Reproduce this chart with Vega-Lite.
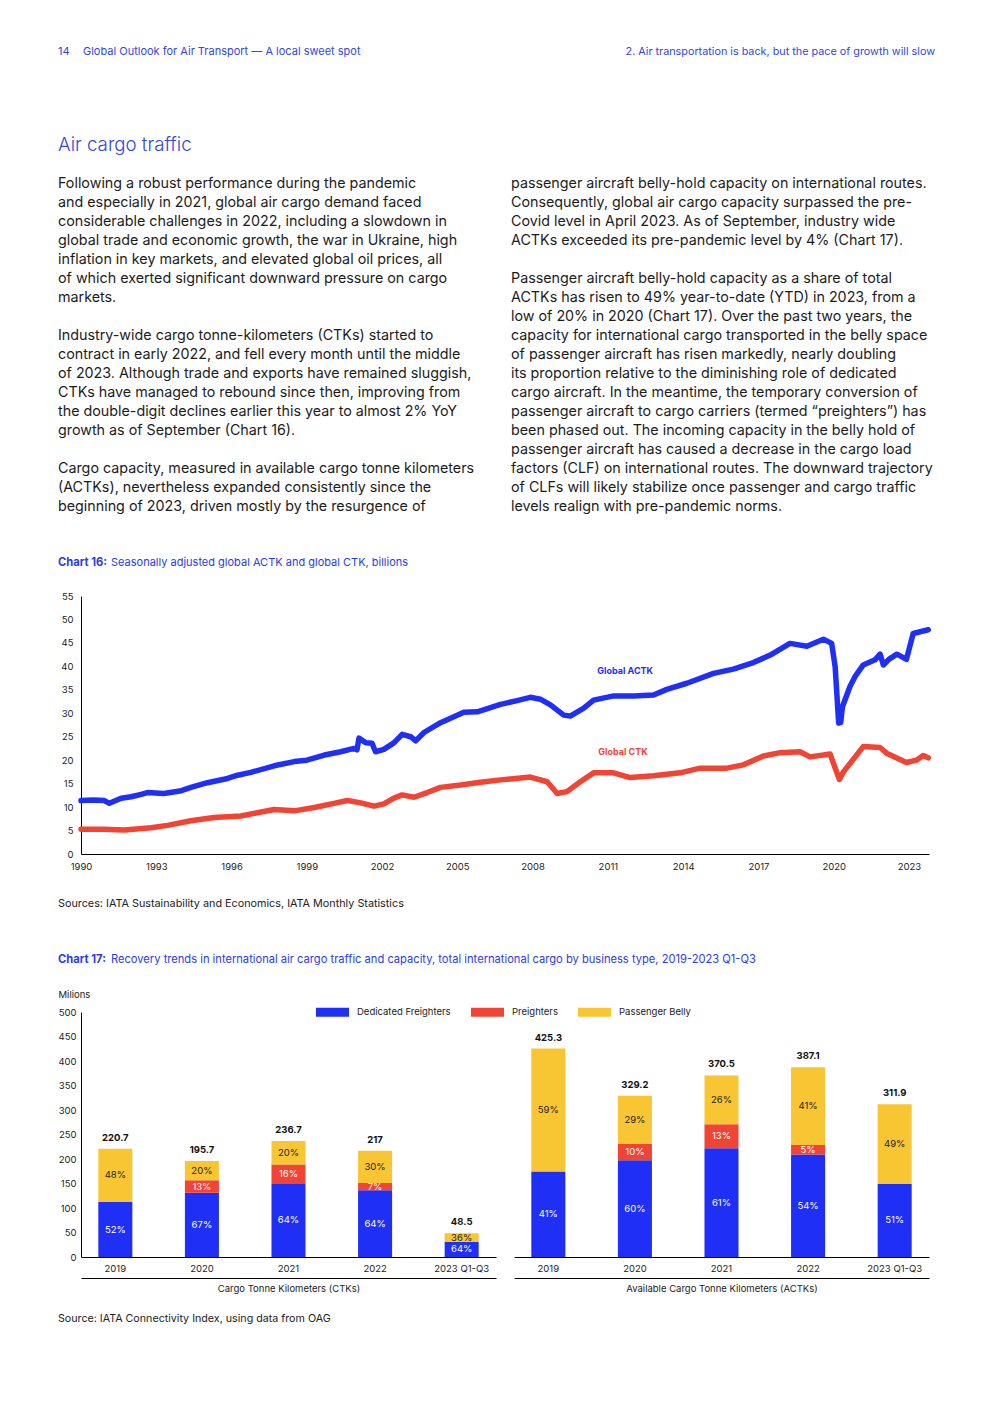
{
  "$schema": "https://vega.github.io/schema/vega-lite/v6.json",
  "padding": {"left": 57, "top": 40, "right": 10, "bottom": 10},
  "background": "white",
  "spacing": 0,
  "resolve": {"scale": {"color": "independent"}, "legend": {"color": "independent"}},
  "datasets": {
    "page": [
      {"role": "headerNum", "col": "left", "line": -7, "text": "14"},
      {"role": "headerL", "col": "left", "line": -7, "text": "Global Outlook for Air Transport — A local sweet spot"},
      {"role": "headerR", "col": "right", "line": -7, "text": "2. Air transportation is back, but the pace of growth will slow"},
      {"role": "title", "col": "left", "line": -2, "text": "Air cargo traffic"},
      {"role": "body", "col": "left", "line": 0, "text": "Following a robust performance during the pandemic"},
      {"role": "body", "col": "left", "line": 1, "text": "and especially in 2021, global air cargo demand faced"},
      {"role": "body", "col": "left", "line": 2, "text": "considerable challenges in 2022, including a slowdown in"},
      {"role": "body", "col": "left", "line": 3, "text": "global trade and economic growth, the war in Ukraine, high"},
      {"role": "body", "col": "left", "line": 4, "text": "inflation in key markets, and elevated global oil prices, all"},
      {"role": "body", "col": "left", "line": 5, "text": "of which exerted significant downward pressure on cargo"},
      {"role": "body", "col": "left", "line": 6, "text": "markets."},
      {"role": "body", "col": "left", "line": 8, "text": "Industry-wide cargo tonne-kilometers (CTKs) started to"},
      {"role": "body", "col": "left", "line": 9, "text": "contract in early 2022, and fell every month until the middle"},
      {"role": "body", "col": "left", "line": 10, "text": "of 2023. Although trade and exports have remained sluggish,"},
      {"role": "body", "col": "left", "line": 11, "text": "CTKs have managed to rebound since then, improving from"},
      {"role": "body", "col": "left", "line": 12, "text": "the double-digit declines earlier this year to almost 2% YoY"},
      {"role": "body", "col": "left", "line": 13, "text": "growth as of September (Chart 16)."},
      {"role": "body", "col": "left", "line": 15, "text": "Cargo capacity, measured in available cargo tonne kilometers"},
      {"role": "body", "col": "left", "line": 16, "text": "(ACTKs), nevertheless expanded consistently since the"},
      {"role": "body", "col": "left", "line": 17, "text": "beginning of 2023, driven mostly by the resurgence of"},
      {"role": "body", "col": "right", "line": 0, "text": "passenger aircraft belly-hold capacity on international routes."},
      {"role": "body", "col": "right", "line": 1, "text": "Consequently, global air cargo capacity surpassed the pre-"},
      {"role": "body", "col": "right", "line": 2, "text": "Covid level in April 2023. As of September, industry wide"},
      {"role": "body", "col": "right", "line": 3, "text": "ACTKs exceeded its pre-pandemic level by 4% (Chart 17)."},
      {"role": "body", "col": "right", "line": 5, "text": "Passenger aircraft belly-hold capacity as a share of total"},
      {"role": "body", "col": "right", "line": 6, "text": "ACTKs has risen to 49% year-to-date (YTD) in 2023, from a"},
      {"role": "body", "col": "right", "line": 7, "text": "low of 20% in 2020 (Chart 17). Over the past two years, the"},
      {"role": "body", "col": "right", "line": 8, "text": "capacity for international cargo transported in the belly space"},
      {"role": "body", "col": "right", "line": 9, "text": "of passenger aircraft has risen markedly, nearly doubling"},
      {"role": "body", "col": "right", "line": 10, "text": "its proportion relative to the diminishing role of dedicated"},
      {"role": "body", "col": "right", "line": 11, "text": "cargo aircraft. In the meantime, the temporary conversion of"},
      {"role": "body", "col": "right", "line": 12, "text": "passenger aircraft to cargo carriers (termed “preighters”) has"},
      {"role": "body", "col": "right", "line": 13, "text": "been phased out. The incoming capacity in the belly hold of"},
      {"role": "body", "col": "right", "line": 14, "text": "passenger aircraft has caused a decrease in the cargo load"},
      {"role": "body", "col": "right", "line": 15, "text": "factors (CLF) on international routes. The downward trajectory"},
      {"role": "body", "col": "right", "line": 16, "text": "of CLFs will likely stabilize once passenger and cargo traffic"},
      {"role": "body", "col": "right", "line": 17, "text": "levels realign with pre-pandemic norms."},
      {"role": "capB", "col": "left", "line": 20, "text": "Chart 16:"},
      {"role": "cap", "col": "left", "line": 20, "text": "Seasonally adjusted global ACTK and global CTK, billions"}
    ],
    "mid": [
      {"role": "src", "col": "left", "line": 0, "text": "Sources: IATA Sustainability and Economics, IATA Monthly Statistics"},
      {"role": "capB", "col": "left", "line": 3, "text": "Chart 17:"},
      {"role": "cap", "col": "left", "line": 3, "text": "Recovery trends in international air cargo traffic and capacity, total international cargo by business type, 2019-2023 Q1-Q3"}
    ],
    "foot": [
      {"role": "src", "col": "left", "line": 0, "text": "Source: IATA Connectivity Index, using data from OAG"}
    ],
    "traffic": [
      {"series": "Global ACTK", "year": 1990.0, "value": 11.4},
      {"series": "Global ACTK", "year": 1990.5, "value": 11.5},
      {"series": "Global ACTK", "year": 1990.93, "value": 11.4},
      {"series": "Global ACTK", "year": 1991.13, "value": 10.8},
      {"series": "Global ACTK", "year": 1991.6, "value": 11.9},
      {"series": "Global ACTK", "year": 1992.0, "value": 12.2},
      {"series": "Global ACTK", "year": 1992.4, "value": 12.7},
      {"series": "Global ACTK", "year": 1992.65, "value": 13.1},
      {"series": "Global ACTK", "year": 1993.3, "value": 12.9},
      {"series": "Global ACTK", "year": 1994.0, "value": 13.5},
      {"series": "Global ACTK", "year": 1994.38, "value": 14.2},
      {"series": "Global ACTK", "year": 1995.04, "value": 15.2},
      {"series": "Global ACTK", "year": 1995.84, "value": 16.1},
      {"series": "Global ACTK", "year": 1996.24, "value": 16.8},
      {"series": "Global ACTK", "year": 1996.77, "value": 17.4},
      {"series": "Global ACTK", "year": 1997.7, "value": 18.8},
      {"series": "Global ACTK", "year": 1998.5, "value": 19.7},
      {"series": "Global ACTK", "year": 1999.0, "value": 20.0},
      {"series": "Global ACTK", "year": 1999.7, "value": 21.1},
      {"series": "Global ACTK", "year": 2000.35, "value": 21.8},
      {"series": "Global ACTK", "year": 2000.88, "value": 22.5},
      {"series": "Global ACTK", "year": 2001.0, "value": 22.2},
      {"series": "Global ACTK", "year": 2001.08, "value": 24.7},
      {"series": "Global ACTK", "year": 2001.35, "value": 23.7},
      {"series": "Global ACTK", "year": 2001.6, "value": 23.6},
      {"series": "Global ACTK", "year": 2001.74, "value": 21.8},
      {"series": "Global ACTK", "year": 2002.07, "value": 22.3},
      {"series": "Global ACTK", "year": 2002.47, "value": 23.7},
      {"series": "Global ACTK", "year": 2002.8, "value": 25.5},
      {"series": "Global ACTK", "year": 2003.14, "value": 25.0},
      {"series": "Global ACTK", "year": 2003.34, "value": 24.1},
      {"series": "Global ACTK", "year": 2003.67, "value": 25.9},
      {"series": "Global ACTK", "year": 2004.33, "value": 28.0},
      {"series": "Global ACTK", "year": 2005.26, "value": 30.2},
      {"series": "Global ACTK", "year": 2005.8, "value": 30.3},
      {"series": "Global ACTK", "year": 2006.72, "value": 31.9},
      {"series": "Global ACTK", "year": 2007.3, "value": 32.6},
      {"series": "Global ACTK", "year": 2007.91, "value": 33.4},
      {"series": "Global ACTK", "year": 2008.31, "value": 33.0},
      {"series": "Global ACTK", "year": 2008.71, "value": 31.8},
      {"series": "Global ACTK", "year": 2009.24, "value": 29.6},
      {"series": "Global ACTK", "year": 2009.5, "value": 29.4},
      {"series": "Global ACTK", "year": 2010.04, "value": 31.1},
      {"series": "Global ACTK", "year": 2010.43, "value": 32.8},
      {"series": "Global ACTK", "year": 2011.23, "value": 33.7},
      {"series": "Global ACTK", "year": 2012.03, "value": 33.7},
      {"series": "Global ACTK", "year": 2012.82, "value": 33.9},
      {"series": "Global ACTK", "year": 2013.35, "value": 35.1},
      {"series": "Global ACTK", "year": 2014.15, "value": 36.4},
      {"series": "Global ACTK", "year": 2015.21, "value": 38.5},
      {"series": "Global ACTK", "year": 2016.0, "value": 39.4},
      {"series": "Global ACTK", "year": 2016.8, "value": 40.8},
      {"series": "Global ACTK", "year": 2017.47, "value": 42.4},
      {"series": "Global ACTK", "year": 2018.26, "value": 44.9},
      {"series": "Global ACTK", "year": 2018.93, "value": 44.3},
      {"series": "Global ACTK", "year": 2019.59, "value": 45.8},
      {"series": "Global ACTK", "year": 2019.92, "value": 44.9},
      {"series": "Global ACTK", "year": 2020.06, "value": 39.9},
      {"series": "Global ACTK", "year": 2020.2, "value": 27.9},
      {"series": "Global ACTK", "year": 2020.28, "value": 28.0},
      {"series": "Global ACTK", "year": 2020.35, "value": 31.4},
      {"series": "Global ACTK", "year": 2020.65, "value": 35.7},
      {"series": "Global ACTK", "year": 2020.85, "value": 37.8},
      {"series": "Global ACTK", "year": 2021.18, "value": 40.3},
      {"series": "Global ACTK", "year": 2021.65, "value": 41.4},
      {"series": "Global ACTK", "year": 2021.85, "value": 42.6},
      {"series": "Global ACTK", "year": 2021.98, "value": 40.3},
      {"series": "Global ACTK", "year": 2022.2, "value": 41.5},
      {"series": "Global ACTK", "year": 2022.52, "value": 42.6},
      {"series": "Global ACTK", "year": 2022.9, "value": 41.5},
      {"series": "Global ACTK", "year": 2023.17, "value": 47.0},
      {"series": "Global ACTK", "year": 2023.77, "value": 47.8},
      {"series": "Global CTK", "year": 1990.0, "value": 5.3},
      {"series": "Global CTK", "year": 1990.9, "value": 5.3},
      {"series": "Global CTK", "year": 1991.73, "value": 5.1},
      {"series": "Global CTK", "year": 1992.79, "value": 5.6},
      {"series": "Global CTK", "year": 1993.45, "value": 6.1},
      {"series": "Global CTK", "year": 1994.38, "value": 7.1},
      {"series": "Global CTK", "year": 1995.3, "value": 7.8},
      {"series": "Global CTK", "year": 1996.37, "value": 8.1},
      {"series": "Global CTK", "year": 1997.03, "value": 8.8},
      {"series": "Global CTK", "year": 1997.7, "value": 9.5},
      {"series": "Global CTK", "year": 1998.5, "value": 9.2},
      {"series": "Global CTK", "year": 1999.3, "value": 9.9},
      {"series": "Global CTK", "year": 2000.08, "value": 10.8},
      {"series": "Global CTK", "year": 2000.62, "value": 11.4},
      {"series": "Global CTK", "year": 2001.15, "value": 10.9},
      {"series": "Global CTK", "year": 2001.68, "value": 10.2},
      {"series": "Global CTK", "year": 2002.07, "value": 10.7},
      {"series": "Global CTK", "year": 2002.47, "value": 11.9},
      {"series": "Global CTK", "year": 2002.8, "value": 12.6},
      {"series": "Global CTK", "year": 2003.27, "value": 12.1},
      {"series": "Global CTK", "year": 2003.8, "value": 13.1},
      {"series": "Global CTK", "year": 2004.33, "value": 14.2},
      {"series": "Global CTK", "year": 2005.13, "value": 14.7},
      {"series": "Global CTK", "year": 2005.92, "value": 15.3},
      {"series": "Global CTK", "year": 2006.72, "value": 15.8},
      {"series": "Global CTK", "year": 2007.91, "value": 16.4},
      {"series": "Global CTK", "year": 2008.58, "value": 15.4},
      {"series": "Global CTK", "year": 2008.98, "value": 12.9},
      {"series": "Global CTK", "year": 2009.37, "value": 13.3},
      {"series": "Global CTK", "year": 2009.9, "value": 15.4},
      {"series": "Global CTK", "year": 2010.43, "value": 17.3},
      {"series": "Global CTK", "year": 2011.23, "value": 17.3},
      {"series": "Global CTK", "year": 2011.89, "value": 16.3},
      {"series": "Global CTK", "year": 2012.82, "value": 16.7},
      {"series": "Global CTK", "year": 2013.88, "value": 17.3},
      {"series": "Global CTK", "year": 2014.68, "value": 18.3},
      {"series": "Global CTK", "year": 2015.74, "value": 18.3},
      {"series": "Global CTK", "year": 2016.4, "value": 19.0},
      {"series": "Global CTK", "year": 2017.2, "value": 20.9},
      {"series": "Global CTK", "year": 2017.87, "value": 21.6},
      {"series": "Global CTK", "year": 2018.66, "value": 21.8},
      {"series": "Global CTK", "year": 2019.06, "value": 20.7},
      {"series": "Global CTK", "year": 2019.86, "value": 21.3},
      {"series": "Global CTK", "year": 2020.06, "value": 18.3},
      {"series": "Global CTK", "year": 2020.23, "value": 15.9},
      {"series": "Global CTK", "year": 2020.39, "value": 17.5},
      {"series": "Global CTK", "year": 2021.18, "value": 22.9},
      {"series": "Global CTK", "year": 2021.85, "value": 22.7},
      {"series": "Global CTK", "year": 2022.11, "value": 21.5},
      {"series": "Global CTK", "year": 2022.9, "value": 19.5},
      {"series": "Global CTK", "year": 2023.3, "value": 20.0},
      {"series": "Global CTK", "year": 2023.57, "value": 21.0},
      {"series": "Global CTK", "year": 2023.77, "value": 20.5}
    ],
    "cargo": [
      {"metric": "CTK", "year": "2019", "type": "Dedicated Freighters", "value": 112.0, "pct": "52%"},
      {"metric": "CTK", "year": "2019", "type": "Passenger Belly", "value": 108.7, "pct": "48%"},
      {"metric": "CTK", "year": "2020", "type": "Dedicated Freighters", "value": 131.0, "pct": "67%"},
      {"metric": "CTK", "year": "2020", "type": "Preighters", "value": 25.4, "pct": "13%"},
      {"metric": "CTK", "year": "2020", "type": "Passenger Belly", "value": 39.3, "pct": "20%"},
      {"metric": "CTK", "year": "2021", "type": "Dedicated Freighters", "value": 149.0, "pct": "64%"},
      {"metric": "CTK", "year": "2021", "type": "Preighters", "value": 40.0, "pct": "16%"},
      {"metric": "CTK", "year": "2021", "type": "Passenger Belly", "value": 47.7, "pct": "20%"},
      {"metric": "CTK", "year": "2022", "type": "Dedicated Freighters", "value": 136.0, "pct": "64%"},
      {"metric": "CTK", "year": "2022", "type": "Preighters", "value": 15.2, "pct": "7%"},
      {"metric": "CTK", "year": "2022", "type": "Passenger Belly", "value": 65.8, "pct": "30%"},
      {"metric": "CTK", "year": "2023 Q1-Q3", "type": "Dedicated Freighters", "value": 31.0, "pct": "64%"},
      {"metric": "CTK", "year": "2023 Q1-Q3", "type": "Passenger Belly", "value": 17.5, "pct": "36%"},
      {"metric": "ACTK", "year": "2019", "type": "Dedicated Freighters", "value": 174.4, "pct": "41%"},
      {"metric": "ACTK", "year": "2019", "type": "Passenger Belly", "value": 250.9, "pct": "59%"},
      {"metric": "ACTK", "year": "2020", "type": "Dedicated Freighters", "value": 197.5, "pct": "60%"},
      {"metric": "ACTK", "year": "2020", "type": "Preighters", "value": 32.9, "pct": "10%"},
      {"metric": "ACTK", "year": "2020", "type": "Passenger Belly", "value": 98.8, "pct": "29%"},
      {"metric": "ACTK", "year": "2021", "type": "Dedicated Freighters", "value": 222.0, "pct": "61%"},
      {"metric": "ACTK", "year": "2021", "type": "Preighters", "value": 49.0, "pct": "13%"},
      {"metric": "ACTK", "year": "2021", "type": "Passenger Belly", "value": 99.5, "pct": "26%"},
      {"metric": "ACTK", "year": "2022", "type": "Dedicated Freighters", "value": 209.0, "pct": "54%"},
      {"metric": "ACTK", "year": "2022", "type": "Preighters", "value": 19.4, "pct": "5%"},
      {"metric": "ACTK", "year": "2022", "type": "Passenger Belly", "value": 158.7, "pct": "41%"},
      {"metric": "ACTK", "year": "2023 Q1-Q3", "type": "Dedicated Freighters", "value": 149.0, "pct": "51%"},
      {"metric": "ACTK", "year": "2023 Q1-Q3", "type": "Passenger Belly", "value": 162.9, "pct": "49%"}
    ],
    "totals": [
      {"metric": "CTK", "year": "2019", "total": 220.7},
      {"metric": "CTK", "year": "2020", "total": 195.7},
      {"metric": "CTK", "year": "2021", "total": 236.7},
      {"metric": "CTK", "year": "2022", "total": 217},
      {"metric": "CTK", "year": "2023 Q1-Q3", "total": 48.5},
      {"metric": "ACTK", "year": "2019", "total": 425.3},
      {"metric": "ACTK", "year": "2020", "total": 329.2},
      {"metric": "ACTK", "year": "2021", "total": 370.5},
      {"metric": "ACTK", "year": "2022", "total": 387.1},
      {"metric": "ACTK", "year": "2023 Q1-Q3", "total": 311.9}
    ],
    "labels": [
      {"series": "Global ACTK"},
      {"series": "Global CTK"}
    ]
  },
  "vconcat": [
    {
      "width": 848,
      "height": 551,
      "data": {"name": "page"},
      "encoding": {
        "x": {"field": "col", "type": "nominal", "scale": {"type": "point", "domain": ["left", "right"], "range": [-23, 430], "padding": 0}, "axis": null},
        "y": {"field": "line", "type": "quantitative", "scale": {"domain": [0, 17], "range": [143, 466], "nice": false, "zero": false}, "axis": null},
        "text": {"field": "text"}
      },
      "layer": [
        {"transform": [{"filter": "datum.role === 'body'"}], "mark": {"type": "text", "align": "left", "baseline": "middle", "fontSize": 14.3, "color": "#1c1c1c", "dy": 1}},
        {"transform": [{"filter": "datum.role === 'title'"}], "mark": {"type": "text", "align": "left", "baseline": "middle", "fontSize": 18.7, "fontWeight": 300, "color": "#3446dc"}},
        {"transform": [{"filter": "datum.role === 'headerNum'"}], "mark": {"type": "text", "align": "left", "baseline": "middle", "fontSize": 11, "color": "#3446dc", "dy": 2}},
        {"transform": [{"filter": "datum.role === 'headerL'"}], "mark": {"type": "text", "align": "left", "baseline": "middle", "fontSize": 11, "color": "#3446dc", "dx": 25, "dy": 2}},
        {"transform": [{"filter": "datum.role === 'headerR'"}], "mark": {"type": "text", "align": "right", "baseline": "middle", "fontSize": 10.8, "color": "#3446dc", "dy": 2, "dx": 6}, "encoding": {"x": {"value": "width"}}},
        {"transform": [{"filter": "datum.role === 'capB'"}], "mark": {"type": "text", "align": "left", "baseline": "middle", "fontSize": 11.2, "fontWeight": "bold", "color": "#2a3ce6"}},
        {"transform": [{"filter": "datum.role === 'cap'"}], "mark": {"type": "text", "align": "left", "baseline": "middle", "fontSize": 11, "color": "#2a3ce6", "dx": 53}}
      ]
    },
    {
      "width": 848,
      "height": 258,
      "layer": [
        {
          "data": {"name": "traffic"},
          "mark": {"type": "line", "strokeWidth": 5.5, "strokeJoin": "round", "strokeCap": "round"},
          "encoding": {
            "x": {"field": "year", "type": "quantitative", "scale": {"domain": [1990, 2023.8], "nice": false, "zero": false},
                  "axis": {"values": [1990, 1993, 1996, 1999, 2002, 2005, 2008, 2011, 2014, 2017, 2020, 2023], "format": "d", "title": null, "grid": false, "ticks": false, "domainColor": "#000000", "labelPadding": 7, "labelFlush": false, "labelOverlap": false}},
            "y": {"field": "value", "type": "quantitative", "scale": {"domain": [0, 55], "nice": false},
                  "axis": {"values": [0, 5, 10, 15, 20, 25, 30, 35, 40, 45, 50, 55], "title": null, "grid": false, "ticks": false, "domainColor": "#000000", "labelPadding": 8, "labelOverlap": false, "labelFlush": false}},
            "color": {"field": "series", "type": "nominal", "scale": {"domain": ["Global ACTK", "Global CTK"], "range": ["#1f2ff5", "#f04434"]}, "legend": null}
          }
        },
        {
          "data": {"name": "labels"},
          "transform": [{"filter": "datum.series === 'Global ACTK'"}],
          "mark": {"type": "text", "align": "left", "baseline": "middle", "fontSize": 9, "fontWeight": "bold", "color": "#1f2ff5"},
          "encoding": {"x": {"datum": 2010.58, "axis": null}, "y": {"datum": 39, "axis": null}, "text": {"field": "series"}}
        },
        {
          "data": {"name": "labels"},
          "transform": [{"filter": "datum.series === 'Global CTK'"}],
          "mark": {"type": "text", "align": "left", "baseline": "middle", "fontSize": 9, "fontWeight": "bold", "color": "#f04434"},
          "encoding": {"x": {"datum": 2010.62, "axis": null}, "y": {"datum": 21.75, "axis": null}, "text": {"field": "series"}}
        }
      ],
      "resolve": {"axis": {"x": "independent", "y": "independent"}}
    },
    {
      "width": 848,
      "height": 118,
      "data": {"name": "mid"},
      "encoding": {
        "x": {"field": "col", "type": "nominal", "scale": {"type": "point", "domain": ["left", "right"], "range": [-23, 430], "padding": 0}, "axis": null},
        "y": {"field": "line", "type": "quantitative", "scale": {"domain": [0, 3], "range": [32.5, 88.5], "nice": false, "zero": false}, "axis": null},
        "text": {"field": "text"}
      },
      "layer": [
        {"transform": [{"filter": "datum.role === 'src'"}], "mark": {"type": "text", "align": "left", "baseline": "middle", "fontSize": 10.8, "color": "#222222"}},
        {"transform": [{"filter": "datum.role === 'capB'"}], "mark": {"type": "text", "align": "left", "baseline": "middle", "fontSize": 11.2, "fontWeight": "bold", "color": "#2a3ce6"}},
        {"transform": [{"filter": "datum.role === 'cap'"}], "mark": {"type": "text", "align": "left", "baseline": "middle", "fontSize": 11.15, "color": "#2a3ce6", "dx": 53}}
      ]
    },
    {
      "hconcat": [
        {
          "width": 415,
          "height": 245,
          "layer": [
            {
              "data": {"name": "cargo"},
              "transform": [
                {"filter": "datum.metric === 'CTK'"},
                {"calculate": "indexof(['Dedicated Freighters','Preighters','Passenger Belly'], datum.type)", "as": "ord"},
                {"stack": "value", "groupby": ["year"], "sort": [{"field": "ord"}], "as": ["v0", "v1"]}
              ],
              "mark": {"type": "bar"},
              "encoding": {
                "x": {"field": "year", "type": "nominal", "scale": {"type": "band", "domain": ["2019", "2020", "2021", "2022", "2023 Q1-Q3"], "paddingInner": 0.607, "paddingOuter": 0.2},
                      "axis": {"title": null, "ticks": false, "domainColor": "#000000", "labelPadding": 6, "labelAngle": 0}},
                "y": {"field": "v0", "type": "quantitative", "scale": {"domain": [0, 500], "nice": false},
                      "axis": {"values": [0, 50, 100, 150, 200, 250, 300, 350, 400, 450, 500], "title": "Milions", "titleAngle": 0, "titleAlign": "left", "titleBaseline": "middle", "titleX": -23, "titleY": -18, "titleFontWeight": "normal", "titleFontSize": 9.5, "titleColor": "#222222", "grid": false, "ticks": false, "domainColor": "#000000", "labelPadding": 5, "labelOverlap": false, "labelFlush": false}},
                "y2": {"field": "v1"},
                "color": {"field": "type", "type": "nominal", "scale": {"domain": ["Dedicated Freighters", "Preighters", "Passenger Belly"], "range": ["#1f2ff5", "#f04434", "#f9c633"]},
                          "legend": {"orient": "none", "legendX": 240.5, "legendY": -11, "direction": "horizontal", "title": null, "padding": 0, "symbolType": "M-1.5,-0.4H1.5V0.4H-1.5Z", "symbolSize": 484, "symbolStrokeWidth": 0, "symbolOpacity": 1, "labelFontSize": 9.5, "labelOffset": 13.5, "columnPadding": 19, "labelColor": "#222222"}}
              }
            },
            {
              "data": {"name": "cargo"},
              "transform": [
                {"filter": "datum.metric === 'CTK'"},
                {"calculate": "indexof(['Dedicated Freighters','Preighters','Passenger Belly'], datum.type)", "as": "ord"},
                {"stack": "value", "groupby": ["year"], "sort": [{"field": "ord"}], "as": ["v0", "v1"]},
                {"calculate": "(datum.v0 + datum.v1) / 2", "as": "mid"}
              ],
              "mark": {"type": "text", "fontSize": 9.5, "baseline": "middle", "align": "center"},
              "encoding": {
                "x": {"field": "year", "type": "nominal", "axis": null},
                "y": {"field": "mid", "type": "quantitative", "axis": null},
                "text": {"field": "pct"},
                "color": {"condition": {"test": "datum.type === 'Passenger Belly'", "value": "#222222"}, "value": "#ffffff"}
              }
            },
            {
              "data": {"name": "totals"},
              "transform": [{"filter": "datum.metric === 'CTK'"}],
              "mark": {"type": "text", "fontSize": 9.5, "fontWeight": "bold", "baseline": "bottom", "align": "center", "dy": -6, "color": "#111111"},
              "encoding": {
                "x": {"field": "year", "type": "nominal",
                      "axis": {"orient": "bottom", "offset": 21, "labels": false, "ticks": false, "domainColor": "#000000", "title": "Cargo Tonne Kilometers (CTKs)", "titlePadding": 5, "titleFontSize": 9.5, "titleFontWeight": "normal", "titleColor": "#222222"}},
                "y": {"field": "total", "type": "quantitative", "axis": null},
                "text": {"field": "total", "type": "nominal"}
              }
            }
          ],
          "resolve": {"axis": {"x": "independent", "y": "independent"}}
        },
        {
          "width": 415,
          "height": 245,
          "layer": [
            {
              "data": {"name": "cargo"},
              "transform": [
                {"filter": "datum.metric === 'ACTK'"},
                {"calculate": "indexof(['Dedicated Freighters','Preighters','Passenger Belly'], datum.type)", "as": "ord"},
                {"stack": "value", "groupby": ["year"], "sort": [{"field": "ord"}], "as": ["v0", "v1"]}
              ],
              "mark": {"type": "bar"},
              "encoding": {
                "x": {"field": "year", "type": "nominal", "scale": {"type": "band", "domain": ["2019", "2020", "2021", "2022", "2023 Q1-Q3"], "paddingInner": 0.607, "paddingOuter": 0.2},
                      "axis": {"title": null, "ticks": false, "domainColor": "#000000", "labelPadding": 6, "labelAngle": 0}},
                "y": {"field": "v0", "type": "quantitative", "scale": {"domain": [0, 500], "nice": false}, "axis": null},
                "y2": {"field": "v1"},
                "color": {"field": "type", "type": "nominal", "scale": {"domain": ["Dedicated Freighters", "Preighters", "Passenger Belly"], "range": ["#1f2ff5", "#f04434", "#f9c633"]}, "legend": null}
              }
            },
            {
              "data": {"name": "cargo"},
              "transform": [
                {"filter": "datum.metric === 'ACTK'"},
                {"calculate": "indexof(['Dedicated Freighters','Preighters','Passenger Belly'], datum.type)", "as": "ord"},
                {"stack": "value", "groupby": ["year"], "sort": [{"field": "ord"}], "as": ["v0", "v1"]},
                {"calculate": "(datum.v0 + datum.v1) / 2", "as": "mid"}
              ],
              "mark": {"type": "text", "fontSize": 9.5, "baseline": "middle", "align": "center"},
              "encoding": {
                "x": {"field": "year", "type": "nominal", "axis": null},
                "y": {"field": "mid", "type": "quantitative", "axis": null},
                "text": {"field": "pct"},
                "color": {"condition": {"test": "datum.type === 'Passenger Belly'", "value": "#222222"}, "value": "#ffffff"}
              }
            },
            {
              "data": {"name": "totals"},
              "transform": [{"filter": "datum.metric === 'ACTK'"}],
              "mark": {"type": "text", "fontSize": 9.5, "fontWeight": "bold", "baseline": "bottom", "align": "center", "dy": -6, "color": "#111111"},
              "encoding": {
                "x": {"field": "year", "type": "nominal",
                      "axis": {"orient": "bottom", "offset": 21, "labels": false, "ticks": false, "domainColor": "#000000", "title": "Available Cargo Tonne Kilometers (ACTKs)", "titlePadding": 5, "titleFontSize": 9.5, "titleFontWeight": "normal", "titleColor": "#222222"}},
                "y": {"field": "total", "type": "quantitative", "axis": null},
                "text": {"field": "total", "type": "nominal"}
              }
            }
          ],
          "resolve": {"axis": {"x": "independent", "y": "independent"}}
        }
      ],
      "spacing": 18,
      "bounds": "flush",
      "resolve": {"legend": {"color": "independent"}, "scale": {"y": "shared", "color": "shared"}}
    },
    {
      "width": 848,
      "height": 40,
      "data": {"name": "foot"},
      "encoding": {
        "x": {"field": "col", "type": "nominal", "scale": {"type": "point", "domain": ["left", "right"], "range": [-23, 430], "padding": 0}, "axis": null},
        "y": {"field": "line", "type": "quantitative", "scale": {"domain": [0, 1], "range": [26, 45], "nice": false, "zero": false}, "axis": null},
        "text": {"field": "text"}
      },
      "layer": [
        {"mark": {"type": "text", "align": "left", "baseline": "middle", "fontSize": 10.7, "color": "#222222"}}
      ]
    }
  ],
  "config": {
    "font": "Inter",
    "view": {"stroke": null},
    "axis": {"labelFont": "Inter", "titleFont": "Inter", "labelFontSize": 9.5, "labelColor": "#222222", "domainWidth": 1},
    "legend": {"labelFont": "Inter"},
    "text": {"font": "Inter"}
  }
}
